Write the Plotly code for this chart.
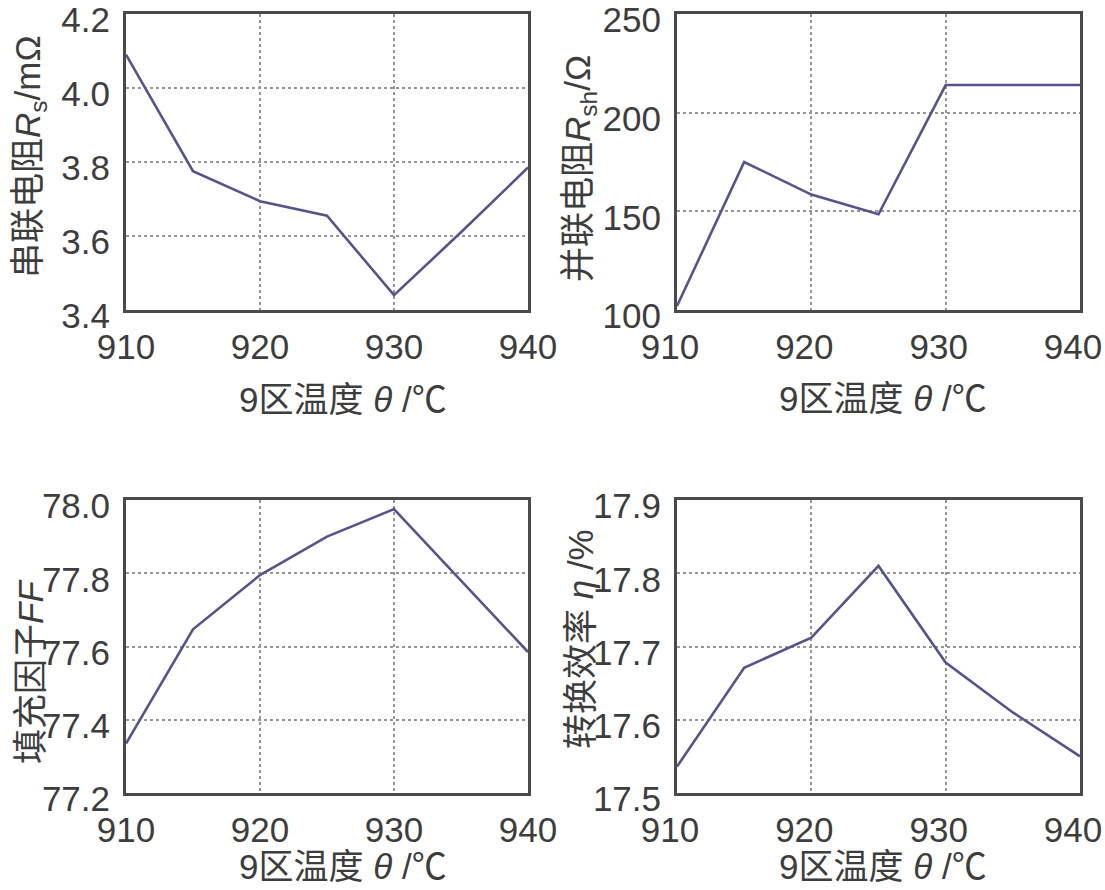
import plotly.graph_objects as go
from plotly.subplots import make_subplots

# ---- data ----
temperature = [910, 915, 920, 925, 930, 935, 940]
rs_series = [4.09, 3.775, 3.694, 3.655, 3.44, 3.61, 3.785]        # 串联电阻 Rs / mΩ
rsh_series = [102, 175, 158.5, 148.5, 214, 214, 214]             # 并联电阻 Rsh / Ω
ff_series = [77.335, 77.647, 77.795, 77.90, 77.975, 77.78, 77.585]  # 填充因子 FF
eta_series = [17.536, 17.671, 17.712, 17.81, 17.678, 17.61, 17.55]  # 转换效率 η / %

x_ticks = [910, 920, 930, 940]
y_ticks = [
    [3.4, 3.6, 3.8, 4.0, 4.2],
    [100, 150, 200, 250],
    [77.2, 77.4, 77.6, 77.8, 78.0],
    [17.5, 17.6, 17.7, 17.8, 17.9],
]
y_ranges = [[3.4, 4.2], [100, 250], [77.2, 78.0], [17.5, 17.9]]
y_formats = [".1f", "d", ".1f", ".1f"]
y_titles = [
    "串联电阻<i>R</i><sub>s</sub>/mΩ",
    "并联电阻<i>R</i><sub>sh</sub>/Ω",
    "填充因子<i>FF</i>",
    "转换效率 <i>η</i> /%",
]
x_title = "9区温度 <i>θ</i> /℃"

W, H = 1105, 890
# plot boxes in pixels: (left, right, top, bottom)
boxes = [(126, 528, 14, 310), (677, 1080, 14, 310),
         (126, 528, 500, 793), (677, 1080, 500, 793)]
ytitle_pos = [(30, 157), (580, 169), (30, 672), (580, 639)]
xtitle_pos = [(343, 399), (883, 398), (343, 866), (883, 866)]
x_label_shift = [0, -7, 0, -7]

FONT = "Liberation Sans, Arial, Noto Sans CJK SC, sans-serif"
TXT = "#3d3d3d"

fig = make_subplots(rows=2, cols=2)
series = [rs_series, rsh_series, ff_series, eta_series]
for i, ys in enumerate(series):
    r, c = i // 2 + 1, i % 2 + 1
    fig.add_trace(go.Scatter(x=temperature, y=ys, mode="lines",
                             line=dict(color="#55558a", width=2.6),
                             showlegend=False, hoverinfo="skip"), row=r, col=c)

annotations = []
for i in range(4):
    l, rr, t, b = boxes[i]
    xa = "xaxis" if i == 0 else f"xaxis{i+1}"
    ya = "yaxis" if i == 0 else f"yaxis{i+1}"
    fig.layout[xa].update(
        domain=[l / W, rr / W], range=[910, 940], tickvals=x_ticks,
        showgrid=True, gridcolor="#969696", griddash="dot", gridwidth=1.6,
        showline=True, mirror=True, linecolor="#4a4a4a", linewidth=3,
        ticks="", zeroline=False, automargin=False, ticklabeloverflow="allow",
        tickfont=dict(family=FONT, size=35, color=TXT), ticklabelstandoff=4,
        ticklabelshift=x_label_shift[i],
    )
    fig.layout[ya].update(
        domain=[1 - b / H, 1 - t / H], range=y_ranges[i], tickvals=y_ticks[i],
        tickformat=y_formats[i],
        showgrid=True, gridcolor="#969696", griddash="dot", gridwidth=1.6,
        showline=True, mirror=True, linecolor="#4a4a4a", linewidth=3,
        ticks="", zeroline=False, automargin=False, ticklabeloverflow="allow",
        tickfont=dict(family=FONT, size=35, color=TXT), ticklabelstandoff=6,
        ticklabelshift=6,
    )
    px, py = ytitle_pos[i]
    annotations.append(dict(text=y_titles[i], x=px / W, y=1 - py / H,
                            xref="paper", yref="paper", showarrow=False,
                            textangle=-90, xanchor="center", yanchor="middle",
                            font=dict(family=FONT, size=35, color=TXT)))
    px, py = xtitle_pos[i]
    annotations.append(dict(text=x_title, x=px / W, y=1 - py / H,
                            xref="paper", yref="paper", showarrow=False,
                            xanchor="center", yanchor="middle",
                            font=dict(family=FONT, size=35, color=TXT)))

fig.update_layout(width=W, height=H, margin=dict(l=0, r=0, t=0, b=0),
                  paper_bgcolor="white", plot_bgcolor="white",
                  annotations=annotations)
fig.write_html("out.html", config={"displayModeBar": False},
               post_script="document.body.style.margin='0px';"
                           "document.body.style.overflow='hidden';")
